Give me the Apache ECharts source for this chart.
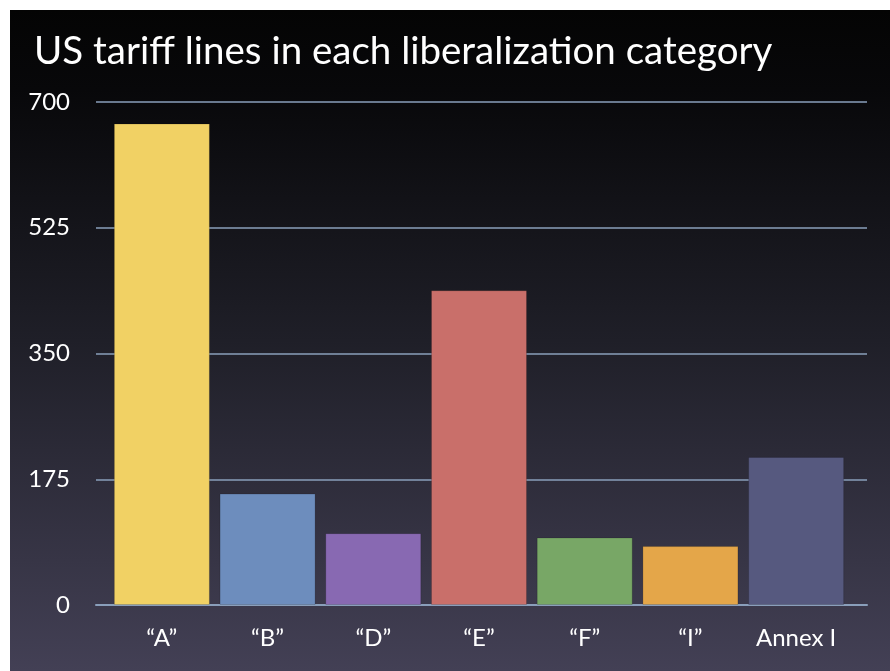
<!DOCTYPE html>
<html>
<head>
<meta charset="utf-8">
<script src="https://cdn.jsdelivr.net/npm/echarts@6/dist/echarts.min.js"></script>
<style>
html,body{margin:0;padding:0;background:#fff;}
#chart{width:890px;height:671px;}
</style>
</head>
<body>
<div id="chart"></div>
<script>
const title = 'US tariff lines in each liberalization category';
const categories = ['“A”', '“B”', '“D”', '“E”', '“F”', '“I”', 'Annex I'];
const values = [670, 155, 100, 438, 94, 82, 206];
const yTicks = [0, 175, 350, 525, 700];
const barColors = ['#f1d164', '#6d8dbd', '#8869b2', '#c96f6a', '#78a766', '#e4a649', '#56597f'];

const chart = echarts.init(document.getElementById('chart'), null, {renderer: 'canvas'});
const font = 'Lato, "Open Sans", sans-serif';
chart.setOption({
  backgroundColor: '#ffffff',
  animation: false,
  graphic: [{
    type: 'rect', z: -10, silent: true,
    shape: {x: 10, y: 10, width: 880, height: 661},
    style: {fill: new echarts.graphic.LinearGradient(0, 0, 0, 1, [
      {offset: 0, color: '#040404'},
      {offset: 0.12, color: '#08080a'},
      {offset: 0.5, color: '#1f1f28'},
      {offset: 1, color: '#434055'}
    ])}
  }],
  title: {
    text: title, left: 29, top: 27,
    textStyle: {color: '#ffffff', fontSize: 38.5, fontWeight: 'normal', fontFamily: font}
  },
  grid: [
    {left: 96, right: 23, top: 102, bottom: 66},
    {left: 109, right: 41, top: 102, bottom: 66}
  ],
  xAxis: [
    {type: 'category', gridIndex: 0, data: categories, show: true,
     axisLine: {show: true, lineStyle: {color: '#8a9fbb', width: 2}},
     axisTick: {show: false}, axisLabel: {show: false}, splitLine: {show: false}},
    {type: 'category', gridIndex: 1, data: categories,
     axisLine: {show: false}, axisTick: {show: false},
     axisLabel: {color: '#ffffff', fontSize: 24, fontFamily: font, margin: 21}}
  ],
  yAxis: [
    {type: 'value', gridIndex: 0, min: yTicks[0], max: yTicks[yTicks.length - 1], interval: 175,
     axisLine: {show: false}, axisTick: {show: false},
     axisLabel: {color: '#ffffff', fontSize: 24, fontFamily: font, margin: 26},
     splitLine: {show: true, lineStyle: {color: '#8a9fbb', width: 1.5}}},
    {type: 'value', gridIndex: 1, min: yTicks[0], max: yTicks[yTicks.length - 1], interval: 175,
     show: false, splitLine: {show: false}}
  ],
  series: [{
    type: 'bar', xAxisIndex: 1, yAxisIndex: 1, barWidth: 96, z: 5,
    data: values.map((v, i) => ({value: v, itemStyle: {color: barColors[i], borderColor: 'rgba(0,0,0,0.15)', borderWidth: 1}}))
  }]
});
</script>
</body>
</html>
